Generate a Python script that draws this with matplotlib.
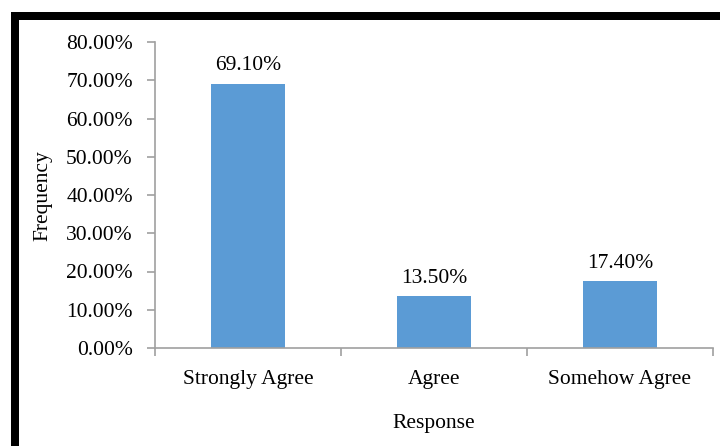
import matplotlib.pyplot as plt
import matplotlib.patches as patches
from matplotlib.ticker import FuncFormatter, MultipleLocator

categories = ["Strongly Agree", "Agree", "Somehow Agree"]
values = [69.10, 13.50, 17.40]

plt.rcParams['font.family'] = ['Liberation Serif', 'DejaVu Serif']
FS = 15.5

W, H = 720, 446
fig = plt.figure(figsize=(W / 100, H / 100), dpi=100)

# thick black frame on top and left
fig.patches.append(patches.Rectangle((11 / W, 1 - 20 / H), 1, 8 / H, transform=fig.transFigure,
                                     facecolor='black', edgecolor='none'))
fig.patches.append(patches.Rectangle((11 / W, 0), 8 / W, 1 - 12 / H, transform=fig.transFigure,
                                     facecolor='black', edgecolor='none'))

ax = fig.add_axes([155 / W, 1 - 348 / H, (713 - 155) / W, (348 - 42) / H])
x = range(len(categories))
ax.bar(x, values, width=0.4, color='#5B9BD5')
for xi, v in zip(x, values):
    ax.annotate(f"{v:.2f}%", (xi, v), xytext=(0, 9.7), textcoords='offset points',
                ha='center', va='baseline', fontsize=FS)

ax.set_xlim(-0.5, len(categories) - 0.5)
ax.set_ylim(0, 80)
ax.yaxis.set_major_locator(MultipleLocator(10))
ax.yaxis.set_major_formatter(FuncFormatter(lambda y, _: f"{y:.2f}%"))
ax.set_xticks([-0.5, 0.5, 1.5, 2.5])
ax.set_xticklabels([])
ax.set_xticks(list(x), minor=True)
ax.set_xticklabels(categories, minor=True)
ax.tick_params(axis='x', which='minor', length=0, pad=16, labelsize=FS)
ax.tick_params(axis='x', which='major', length=6, color='#A0A0A0', width=1.2)
ax.tick_params(axis='y', length=6, color='#A0A0A0', width=1.2, labelsize=FS, pad=10)

for side in ['top', 'right']:
    ax.spines[side].set_visible(False)
for side in ['left', 'bottom']:
    ax.spines[side].set_color('#A0A0A0')
    ax.spines[side].set_linewidth(1.2)

fig.text(43 / W, 1 - 196 / H, "Frequency", rotation=90, ha='center', va='center', fontsize=FS)
fig.text(434 / W, 1 - 428 / H, "Response", ha='center', va='baseline', fontsize=FS)

fig.savefig("out.png", dpi=100)
